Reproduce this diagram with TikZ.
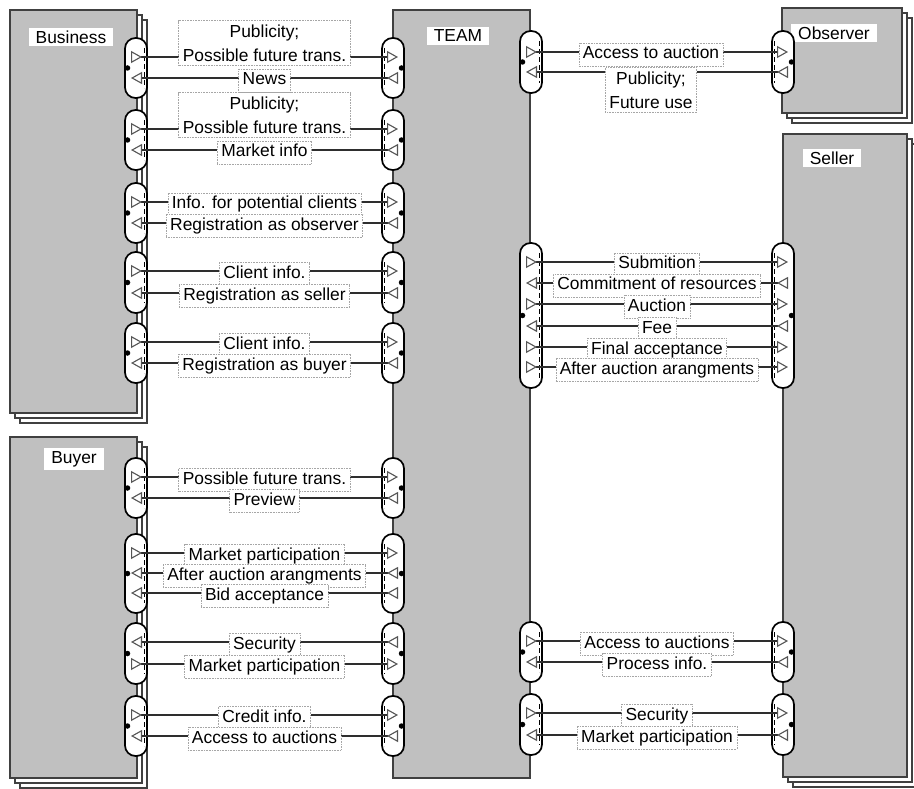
\documentclass[tikz,border=0pt]{standalone}
\usepackage{fontspec}
\setmainfont{Liberation Sans}
\usetikzlibrary{arrows.meta}

\definecolor{actorfill}{HTML}{C0C0C0}
\definecolor{actoredge}{HTML}{404040}
\definecolor{flowline}{HTML}{2E2E2E}
\definecolor{tipedge}{HTML}{555555}
\newcommand\lblfont{\fontsize{17.4}{24}\selectfont}

\tikzset{
  actor/.style={draw=actoredge, line width=1.8pt, fill=actorfill, inner sep=0pt},
  copyof/.style={draw=actoredge, line width=1.5pt, fill=white},
  actorname/.style={fill=white, inner xsep=7pt, inner ysep=3pt, font=\lblfont},
  port/.style={draw=black, line width=1.7pt, fill=white, rounded corners=10.5pt, minimum width=22pt, inner sep=0pt},
  portdash/.style={draw=black, line width=1.4pt, dash pattern=on 5pt off 3pt},
  portdot/.style={circle, fill=black, inner sep=0pt, minimum size=5.5pt},
  flow/.style={draw=flowline, line width=2.4pt, shorten <=-5pt, shorten >=-5pt,
    arrows={Triangle[open,reversed,length=11pt,width=12pt,line width=1.1pt,color=tipedge]-Triangle[open,length=11pt,width=12pt,line width=1.1pt,color=tipedge]}},
  lblbox/.style={fill=white, draw=gray!70, densely dotted, line width=0.6pt, inner xsep=4pt, font=\lblfont},
  lbl/.style={lblbox, inner ysep=3.5pt, text height=12.5pt, text depth=3.5pt},
  lbltwo/.style={lblbox, inner ysep=4pt, align=center},
}

\begin{document}
\begin{tikzpicture}[x=1pt,y=-1pt]
\newcommand\actorstack[5]{
\path[copyof] (#2+10,#3+10) rectangle (#4+10,#5+10);
\path[copyof] (#2+5,#3+5) rectangle (#4+5,#5+5);
\node[actor, minimum width={(#4-#2)*1pt}, minimum height={(#5-#3)*1pt}] (#1) at ({(#2+#4)/2},{(#3+#5)/2}) {};
}
\newcommand\portcap[5]{
\node[port, minimum height={(#4-#3)*1pt}] (#1) at (#2,{(#3+#4)/2}) {};
\path[portdash] ({#2-(#5)*8.5},#3+10) -- ({#2-(#5)*8.5},#4-10);
\node[portdot] at ({#2+(#5)*8.5},{(#3+#4)/2}) {};
}
\newcommand\flowmsg[5][0,2.5]{
\path[flow] (#2.center |- 0,#4) -- (#3.center |- 0,#4) node[lbl, pos=.5, shift={(#1)}] {#5};
}
\newcommand\flowtwo[5]{
\path[flow] (#2.center |- 0,#4) -- (#3.center |- 0,#4) node[lbltwo, pos=.5, shift={(#1)}] {#5};
}

\useasboundingbox[fill=white] (0,0) rectangle (914,789);

% actors
\actorstack{business}{10}{10}{137}{413}
\actorstack{buyer}{10}{437}{137}{778}
\actorstack{observer}{782}{8}{902}{113}
\actorstack{seller}{783}{134}{907}{777}
\node[actor, minimum width=137pt, minimum height=768pt] (team) at (461.5,394) {};

\node[actorname] (businessname) at (71,37) {Business};
\node[actorname] (buyername) at (74,459) {Buyer};
\node[actorname] (teamname) at (458,36) {TEAM};
\node[actorname] (observername) at (834,33) {Observer};
\node[actorname] (sellername) at (832,158) {Seller};

% ports on the business side
\portcap{b1}{136}{38}{98}{-1}
\portcap{b2}{136}{110}{170}{-1}
\portcap{b3}{136}{183}{243}{-1}
\portcap{b4}{136}{252}{313}{-1}
\portcap{b5}{136}{323}{383}{-1}
\portcap{tb1}{393}{38}{98}{1}
\portcap{tb2}{393}{110}{170}{1}
\portcap{tb3}{393}{183}{243}{1}
\portcap{tb4}{393}{252}{313}{1}
\portcap{tb5}{393}{323}{383}{1}

% ports on the buyer side
\portcap{u1}{136}{458}{518}{-1}
\portcap{u2}{136}{534}{613}{-1}
\portcap{u3}{136}{623}{684}{-1}
\portcap{u4}{136}{696}{756}{-1}
\portcap{tu1}{393}{458}{518}{1}
\portcap{tu2}{393}{534}{613}{1}
\portcap{tu3}{393}{623}{684}{1}
\portcap{tu4}{393}{696}{756}{1}

% ports towards observer and seller
\portcap{to}{531}{31}{93}{-1}
\portcap{ts1}{531}{243}{388}{-1}
\portcap{ts2}{531}{622}{682}{-1}
\portcap{ts3}{531}{694}{755}{-1}
\portcap{ob}{783}{31}{93}{1}
\portcap{s1}{783}{243}{388}{1}
\portcap{s2}{783}{622}{682}{1}
\portcap{s3}{783}{694}{755}{1}

% business <-> team
\flowtwo{0,-14}{b1}{tb1}{57}{Publicity;\\Possible future trans.}
\flowmsg{tb1}{b1}{78}{News}
\flowtwo{0,-14}{b2}{tb2}{129}{Publicity;\\Possible future trans.}
\flowmsg{tb2}{b2}{150}{Market info}
\flowmsg{b3}{tb3}{202}{Info. for potential clients}
\flowmsg{tb3}{b3}{223}{Registration as observer}
\flowmsg{b4}{tb4}{271}{Client info.}
\flowmsg{tb4}{b4}{293}{Registration as seller}
\flowmsg{b5}{tb5}{342}{Client info.}
\flowmsg{tb5}{b5}{363}{Registration as buyer}

% buyer <-> team
\flowmsg{u1}{tu1}{477}{Possible future trans.}
\flowmsg{tu1}{u1}{498}{Preview}
\flowmsg{u2}{tu2}{553}{Market participation}
\flowmsg{tu2}{u2}{573}{After auction arangments}
\flowmsg{tu2}{u2}{593}{Bid acceptance}
\flowmsg{tu3}{u3}{642}{Security}
\flowmsg{u3}{tu3}{664}{Market participation}
\flowmsg{u4}{tu4}{715}{Credit info.}
\flowmsg{tu4}{u4}{736}{Access to auctions}

% team <-> observer
\flowmsg[-6,2.5]{to}{ob}{52}{Access to auction}
\flowtwo{-6,18}{ob}{to}{72}{Publicity;\\Future use}

% team <-> seller
\flowmsg{ts1}{s1}{262}{Submition}
\flowmsg{s1}{ts1}{283}{Commitment of resources}
\flowmsg{ts1}{s1}{304}{Auction}
\flowmsg{s1}{ts1}{326}{Fee}
\flowmsg{ts1}{s1}{347}{Final acceptance}
\flowmsg{ts1}{s1}{367}{After auction arangments}
\flowmsg{ts2}{s2}{641}{Access to auctions}
\flowmsg{s2}{ts2}{662}{Process info.}
\flowmsg{ts3}{s3}{713}{Security}
\flowmsg{s3}{ts3}{735}{Market participation}
\end{tikzpicture}
\end{document}
